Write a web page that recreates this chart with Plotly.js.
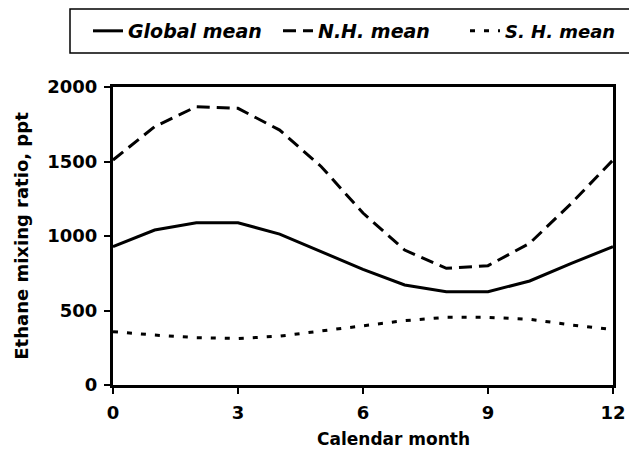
<!DOCTYPE html>
<html>
<head>
<meta charset="utf-8">
<script src="https://cdn.plot.ly/plotly-3.0.1.min.js"></script>
<style>
  html, body { margin: 0; padding: 0; background: #fff; }
  #chart { width: 629px; height: 461px; }
</style>
</head>
<body>
<div id="chart"></div>
<script>
// Calendar month (0 = 12 = January boundary)
const months = [0, 1, 2, 3, 4, 5, 6, 7, 8, 9, 10, 11, 12];

// Ethane mixing ratio, ppt
const globalMean = [928, 1040, 1089, 1089, 1013, 895, 776, 671, 626, 626, 698, 817, 928];
const nhMean     = [1510, 1734, 1868, 1857, 1711, 1465, 1154, 906, 783, 801, 951, 1219, 1510];
const shMean     = [358, 335, 318, 312, 328, 362, 398, 432, 454, 454, 441, 403, 372];

const seriesNames = ['Global mean', 'N.H. mean', 'S. H. mean'];
const xTicks = [0, 3, 6, 9, 12];
const yTicks = [0, 500, 1000, 1500, 2000];

const FAMILY = 'DejaVu Sans, Liberation Sans, Arial, sans-serif';
const tickFont = { family: FAMILY, size: 18, color: '#000', weight: 'bold' };
const titleFont = { family: FAMILY, size: 17, color: '#000', weight: 'bold' };
const legendFont = { family: FAMILY, size: 19, color: '#000', weight: 'bold', style: 'italic' };

const traces = [
  { x: months, y: globalMean, name: seriesNames[0], mode: 'lines', legend: 'legend',
    line: { color: '#000', width: 3 } },
  { x: months, y: nhMean, name: seriesNames[1], mode: 'lines', legend: 'legend',
    line: { color: '#000', width: 3, dash: '13px,7px' } },
  { x: months, y: shMean, name: seriesNames[2], mode: 'lines', legend: 'legend2',
    line: { color: '#000', width: 3, dash: '5px,9px' } }
];

const axisCommon = {
  showline: true, linecolor: '#000', linewidth: 3, mirror: true,
  showgrid: false, zeroline: false,
  ticks: 'outside', ticklen: 6, tickwidth: 2, tickcolor: '#000',
  tickfont: tickFont
};

// the key row is split in two legends so the last entry can sit at the right end
const legendCommon = {
  orientation: 'h', y: 1.188, xanchor: 'left', yanchor: 'middle',
  bgcolor: 'rgba(0,0,0,0)', borderwidth: 0, font: legendFont, traceorder: 'normal'
};

const layout = {
  width: 629, height: 461,
  margin: { l: 113, r: 16, t: 87, b: 76, autoexpand: false },
  paper_bgcolor: '#fff', plot_bgcolor: '#fff',
  showlegend: true,
  legend: Object.assign({}, legendCommon, { x: -0.05, entrywidth: 145, entrywidthmode: 'pixels' }),
  legend2: Object.assign({}, legendCommon, { x: 0.704, font: Object.assign({}, legendFont, { size: 18 }) }),
  shapes: [
    { type: 'rect', xref: 'paper', yref: 'paper',
      x0: -0.086, x1: 1.1, y0: 1.114, y1: 1.262,
      line: { color: '#000', width: 1.5 }, fillcolor: 'rgba(0,0,0,0)' }
  ],
  annotations: [
    { text: 'Calendar month', xref: 'paper', yref: 'paper',
      x: 0.56, y: -0.18, xanchor: 'center', yanchor: 'middle',
      showarrow: false, font: titleFont }
  ],
  xaxis: Object.assign({}, axisCommon, {
    range: [0, 12], tickvals: xTicks, ticktext: xTicks.map(String),
    ticklabelstandoff: 3
  }),
  yaxis: Object.assign({}, axisCommon, {
    range: [0, 2000], tickvals: yTicks, ticktext: yTicks.map(String),
    ticklabelstandoff: 3,
    title: { text: 'Ethane mixing ratio, ppt', font: Object.assign({}, titleFont, { size: 18 }), standoff: 14 }
  })
};

Plotly.newPlot('chart', traces, layout, { displayModeBar: false, staticPlot: true });
</script>
</body>
</html>
